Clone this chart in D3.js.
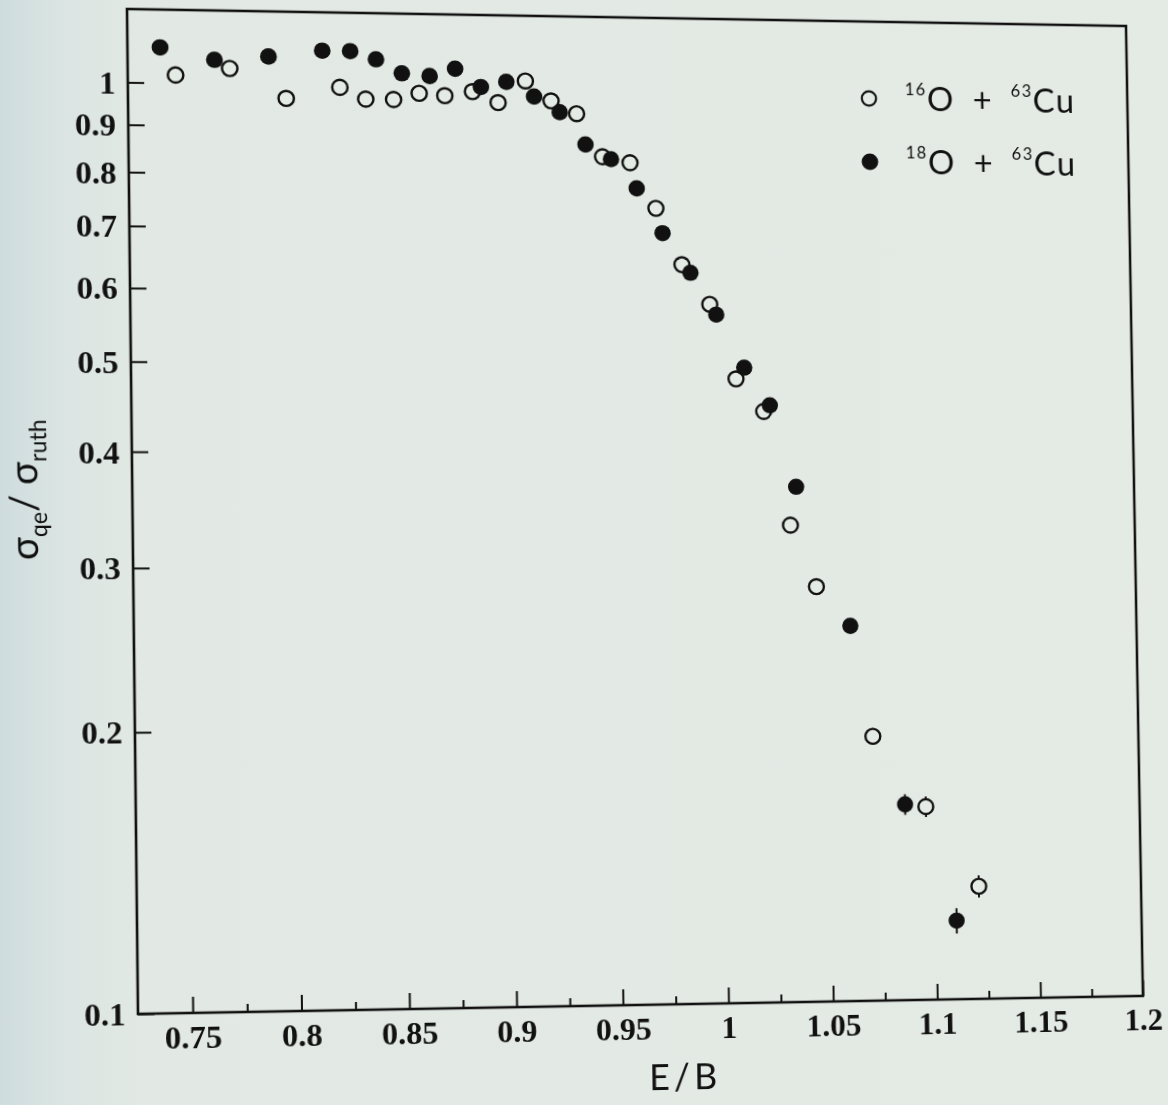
<!DOCTYPE html>
<html>
<head>
<meta charset="utf-8">
<script src="https://cdn.jsdelivr.net/npm/d3@7"></script>
<style>
  html, body { margin: 0; padding: 0; }
  body {
    width: 1168px; height: 1105px; overflow: hidden; position: relative;
    background: linear-gradient(90deg, #cfdcde 0%, #dae4e2 5%, #e2e9e4 12%, #e4eae4 100%);
  }
  #chart { position: absolute; left: 0; top: 0; }
  .tick text { font-family: "Liberation Serif", "Times New Roman", serif; font-weight: bold; font-size: 32px; fill: #111; }
  .tick line { stroke: #111; stroke-width: 2; }
  .legend text, .label { font-family: Lato, "Liberation Sans", sans-serif; font-weight: 400; fill: #111; }
</style>
</head>
<body>
<svg id="chart" width="1168" height="1105"></svg>
<script>
// E/B values and sigma_qe / sigma_ruth
const xOpen = [0.747, 0.772, 0.798, 0.823, 0.835, 0.848, 0.860, 0.872, 0.885, 0.897,
               0.910, 0.922, 0.934, 0.946, 0.959, 0.971, 0.983, 0.996, 1.008, 1.021,
               1.033, 1.045, 1.071, 1.096, 1.121]
const yOpen = [1.020, 1.039, 0.966, 0.995, 0.967, 0.967, 0.983, 0.978, 0.989, 0.963,
               1.018, 0.969, 0.939, 0.843, 0.831, 0.741, 0.643, 0.582, 0.482, 0.444,
               0.333, 0.285, 0.195, 0.163, 0.133]
const errOpen = [0, 0, 0, 0, 0, 0, 0, 0, 0, 0,
                 0, 0, 0, 0, 0, 0, 0, 0, 0, 0,
                 0, 0, 0.021, 0.026, 0.028]

const xFilled = [0.740, 0.765, 0.790, 0.815, 0.828, 0.840, 0.852, 0.865, 0.877, 0.889,
                 0.901, 0.914, 0.926, 0.938, 0.950, 0.962, 0.974, 0.987, 0.999, 1.012,
                 1.024, 1.036, 1.061, 1.086, 1.110]
const yFilled = [1.092, 1.061, 1.072, 1.090, 1.090, 1.069, 1.033, 1.027, 1.047, 1.001,
                 1.015, 0.979, 0.942, 0.869, 0.838, 0.779, 0.696, 0.630, 0.567, 0.496,
                 0.451, 0.367, 0.258, 0.164, 0.122]
const errFilled = [0, 0, 0, 0, 0, 0, 0, 0, 0, 0,
                   0, 0, 0, 0, 0, 0, 0, 0, 0, 0,
                   0, 0, 0, 0.026, 0.032]

const xTicks = [0.75, 0.8, 0.85, 0.9, 0.95, 1, 1.05, 1.1, 1.15, 1.2]
const xMinorTicks = [0.775, 0.825, 0.875, 0.925, 0.975, 1.025, 1.075, 1.125, 1.175]
const yTicks = [0.1, 0.2, 0.3, 0.4, 0.5, 0.6, 0.7, 0.8, 0.9, 1]
const legendLabels = [
  {a: '16', b: '63', filled: false},
  {a: '18', b: '63', filled: true}
]

const margin = {left: 127, top: 9}
const width = 1010
const height = 1000

const openData = xOpen.map((x, i) => ({x, y: yOpen[i], e: errOpen[i]}))
const filledData = xFilled.map((x, i) => ({x, y: yFilled[i], e: errFilled[i]}))

const svg = d3.select('#chart')

// the page was photographed at a slight angle: map the plot box onto the photographed quad
const quad = [[127, 9], [1126, 26], [1143, 996], [138, 1014]]
const squareToQuad = p => {
  const [x0, y0] = p[0], [x1, y1] = p[1], [x2, y2] = p[2], [x3, y3] = p[3]
  const sx = x0 - x1 + x2 - x3, sy = y0 - y1 + y2 - y3
  const dx1 = x1 - x2, dx2 = x3 - x2, dy1 = y1 - y2, dy2 = y3 - y2
  const det = dx1 * dy2 - dx2 * dy1
  const g = (sx * dy2 - dx2 * sy) / det
  const h = (dx1 * sy - sx * dy1) / det
  return [[x1 - x0 + g * x1, x3 - x0 + h * x3, x0],
          [y1 - y0 + g * y1, y3 - y0 + h * y3, y0],
          [g, h, 1]]
}
const S = squareToQuad(quad)
const M = S.map(r => [r[0] / width, r[1] / height,
                      r[2] - r[0] * margin.left / width - r[1] * margin.top / height])
svg.style('transform-origin', '0 0')
  .style('transform', `matrix3d(${M[0][0]},${M[1][0]},0,${M[2][0]},${M[0][1]},${M[1][1]},0,${M[2][1]},0,0,1,0,${M[0][2]},${M[1][2]},0,${M[2][2]})`)

const chart = svg.append('g')
  .attr('transform', `translate(${margin.left}, ${margin.top})`)

const xScale = d3.scaleLinear()
  .domain([0.725, 1.2])
  .range([0, width])

const yScale = d3.scaleLog()
  .domain([0.1, 1.2])
  .range([height, 0])

// axes, ticks pointing inward
const xAxis = chart.append('g')
  .attr('transform', `translate(0, ${height})`)
  .call(d3.axisBottom(xScale)
    .tickValues(xTicks)
    .tickSizeInner(-16)
    .tickSizeOuter(0)
    .tickPadding(12)
    .tickFormat(d3.format('')))
xAxis.select('.domain').remove()

const xMinor = chart.append('g')
  .attr('transform', `translate(0, ${height})`)
  .call(d3.axisBottom(xScale)
    .tickValues(xMinorTicks)
    .tickSizeInner(-8)
    .tickSizeOuter(0)
    .tickFormat(''))
xMinor.select('.domain').remove()

const yAxis = chart.append('g')
  .call(d3.axisLeft(yScale)
    .tickValues(yTicks)
    .tickSizeInner(-16)
    .tickSizeOuter(0)
    .tickPadding(12)
    .tickFormat(d3.format('')))
yAxis.select('.domain').remove()
yAxis.selectAll('.tick text').attr('dy', '0.34em')

// frame
chart.append('rect')
  .attr('x', 0)
  .attr('y', 0)
  .attr('width', width)
  .attr('height', height)
  .attr('fill', 'none')
  .attr('stroke', '#111')
  .attr('stroke-width', 2.6)

// error bars
const errs = openData.concat(filledData).filter(d => d.e > 0)
chart.selectAll('.err')
  .data(errs)
  .enter()
  .append('line')
  .attr('class', 'err')
  .attr('x1', d => xScale(d.x))
  .attr('x2', d => xScale(d.x))
  .attr('y1', d => yScale(d.y * (1 + d.e)))
  .attr('y2', d => yScale(d.y * (1 - d.e)))
  .attr('stroke', '#111')
  .attr('stroke-width', 2)

chart.selectAll('.open')
  .data(openData)
  .enter()
  .append('circle')
  .attr('class', 'open')
  .attr('cx', d => xScale(d.x))
  .attr('cy', d => yScale(d.y))
  .attr('r', 7.6)
  .attr('fill', '#e4eae4')
  .attr('stroke', '#111')
  .attr('stroke-width', 2.4)

chart.selectAll('.filled')
  .data(filledData)
  .enter()
  .append('circle')
  .attr('class', 'filled')
  .attr('cx', d => xScale(d.x))
  .attr('cy', d => yScale(d.y))
  .attr('r', 8.3)
  .attr('fill', '#111')

// legend
const legend = chart.append('g')
  .attr('class', 'legend')
  .attr('transform', 'translate(742, 79)')

const items = legend.selectAll('g')
  .data(legendLabels)
  .enter()
  .append('g')
  .attr('transform', (d, i) => `translate(0, ${i * 65})`)

items.append('circle')
  .attr('r', (d) => d.filled ? 8.5 : 7.3)
  .attr('fill', (d) => d.filled ? '#111' : 'none')
  .attr('stroke', (d) => d.filled ? 'none' : '#111')
  .attr('stroke-width', 2.2)

const txt = items.append('text')
  .attr('x', 37)
  .attr('y', 12)
  .attr('font-size', 34)
  .attr('letter-spacing', 1.5)
  .attr('xml:space', 'preserve')
txt.append('tspan').attr('font-size', 17).attr('dy', -16).text(d => d.a)
txt.append('tspan').attr('dy', 16).text('O\u2002+\u2002')
txt.append('tspan').attr('font-size', 17).attr('dy', -16).text(d => d.b)
txt.append('tspan').attr('dy', 16).text('Cu')

// axis titles
chart.append('text')
  .attr('class', 'label')
  .attr('x', 540)
  .attr('y', 1086)
  .attr('text-anchor', 'middle')
  .attr('font-size', 36)
  .attr('letter-spacing', 4)
  .text('E/B')

const ylab = chart.append('text')
  .attr('class', 'label')
  .attr('transform', 'translate(-92, 480) rotate(-90)')
  .attr('text-anchor', 'middle')
  .attr('font-size', 38)
ylab.append('tspan').text('\u03c3')
ylab.append('tspan').attr('font-size', 23).attr('dy', 9).text('qe')
ylab.append('tspan').attr('dy', -9).text('/ \u03c3')
ylab.append('tspan').attr('font-size', 23).attr('dy', 9).text('ruth')
</script>
</body>
</html>
